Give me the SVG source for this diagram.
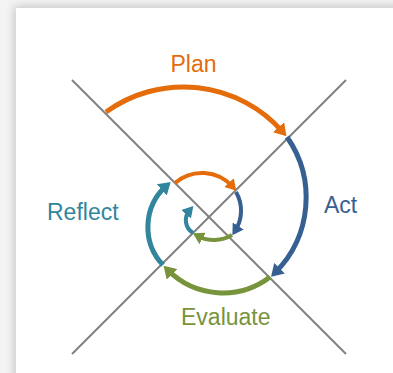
<svg xmlns="http://www.w3.org/2000/svg" width="393" height="373" viewBox="0 0 393 373">
  <defs>
    <filter id="cardShadow" x="-10%" y="-10%" width="120%" height="120%">
      <feGaussianBlur stdDeviation="5"/>
    </filter>
    <!-- arrowheads: tip sits a few px past the path end so the stroke never pokes out -->
    <marker id="headOrange" markerUnits="userSpaceOnUse" markerWidth="12" markerHeight="15" refX="6" refY="7.5" orient="auto">
      <path d="M0,0 L12,7.5 L0,15 z" fill="#E46C0A"/>
    </marker>
    <marker id="headBlue" markerUnits="userSpaceOnUse" markerWidth="12" markerHeight="15" refX="6" refY="7.5" orient="auto">
      <path d="M0,0 L12,7.5 L0,15 z" fill="#376092"/>
    </marker>
    <marker id="headGreen" markerUnits="userSpaceOnUse" markerWidth="12" markerHeight="15" refX="6" refY="7.5" orient="auto">
      <path d="M0,0 L12,7.5 L0,15 z" fill="#77933C"/>
    </marker>
    <marker id="headTeal" markerUnits="userSpaceOnUse" markerWidth="12" markerHeight="15" refX="6" refY="7.5" orient="auto">
      <path d="M0,0 L12,7.5 L0,15 z" fill="#31859C"/>
    </marker>
    <marker id="smallOrange" markerUnits="userSpaceOnUse" markerWidth="11" markerHeight="13" refX="5.5" refY="6.5" orient="auto">
      <path d="M0,0 L11,6.5 L0,13 z" fill="#E46C0A"/>
    </marker>
    <marker id="smallBlue" markerUnits="userSpaceOnUse" markerWidth="11" markerHeight="13" refX="5.5" refY="6.5" orient="auto">
      <path d="M0,0 L11,6.5 L0,13 z" fill="#376092"/>
    </marker>
    <marker id="smallGreen" markerUnits="userSpaceOnUse" markerWidth="11" markerHeight="13" refX="5.5" refY="6.5" orient="auto">
      <path d="M0,0 L11,6.5 L0,13 z" fill="#77933C"/>
    </marker>
    <marker id="smallTeal" markerUnits="userSpaceOnUse" markerWidth="11" markerHeight="13" refX="5.5" refY="6.5" orient="auto">
      <path d="M0,0 L11,6.5 L0,13 z" fill="#31859C"/>
    </marker>
  </defs>
  <style>
    .axis { stroke: #808080; stroke-width: 2; fill: none; }
    .arc { fill: none; stroke-width: 5; }
    .arc.inner { stroke-width: 4; }
    .orange { stroke: #E46C0A; }
    .blue { stroke: #376092; }
    .green { stroke: #77933C; }
    .teal { stroke: #31859C; }
    .label { font-family: "Liberation Sans", Arial, sans-serif; font-size: 23px; }
  </style>

  <!-- page background and card -->
  <rect x="0" y="0" width="393" height="373" fill="#f4f4f4"/>
  <rect x="14" y="6" width="400" height="380" fill="#c8c8c8" filter="url(#cardShadow)"/>
  <rect x="16" y="8" width="377" height="365" fill="#ffffff"/>

  <!-- crossing axes -->
  <g id="axes">
    <line class="axis" x1="72" y1="80" x2="346" y2="354"/>
    <line class="axis" x1="346" y1="80" x2="72" y2="354"/>
  </g>

  <!-- spiral of arrows: outer cycle then inner cycle -->
  <g id="connectors">
    <path class="arc orange" d="M106,112 A132,132 0 0 1 282.5,131.7" marker-end="url(#headOrange)"/>
    <path class="arc blue" d="M287,137 A106,106 0 0 1 275.3,272.5" marker-end="url(#headBlue)"/>
    <path class="arc green" d="M270,277 A77.7,77.7 0 0 1 167.8,270.1" marker-end="url(#headGreen)"/>
    <path class="arc teal" d="M163,265 A55.3,55.3 0 0 1 166.2,185.9" marker-end="url(#headTeal)"/>

    <path class="arc inner orange" d="M175,183 A41.2,41.2 0 0 1 232.6,186.7" marker-end="url(#smallOrange)"/>
    <path class="arc inner blue" d="M236,192 A37.3,37.3 0 0 1 235.3,230.6" marker-end="url(#smallBlue)"/>
    <path class="arc inner green" d="M232,235 A34.8,34.8 0 0 1 197.7,235.9" marker-end="url(#smallGreen)"/>
    <path class="arc inner teal" d="M193,233 A15,15 0 0 1 189.7,210.2" marker-end="url(#smallTeal)"/>
  </g>

  <g id="plan">
    <text class="label" x="193.5" y="72" text-anchor="middle" fill="#E46C0A">Plan</text>
  </g>
  <g id="act">
    <text class="label" x="324" y="213" fill="#376092">Act</text>
  </g>
  <g id="evaluate">
    <text class="label" x="181" y="325" fill="#77933C">Evaluate</text>
  </g>
  <g id="reflect">
    <text class="label" x="47" y="220" fill="#31859C">Reflect</text>
  </g>
</svg>
